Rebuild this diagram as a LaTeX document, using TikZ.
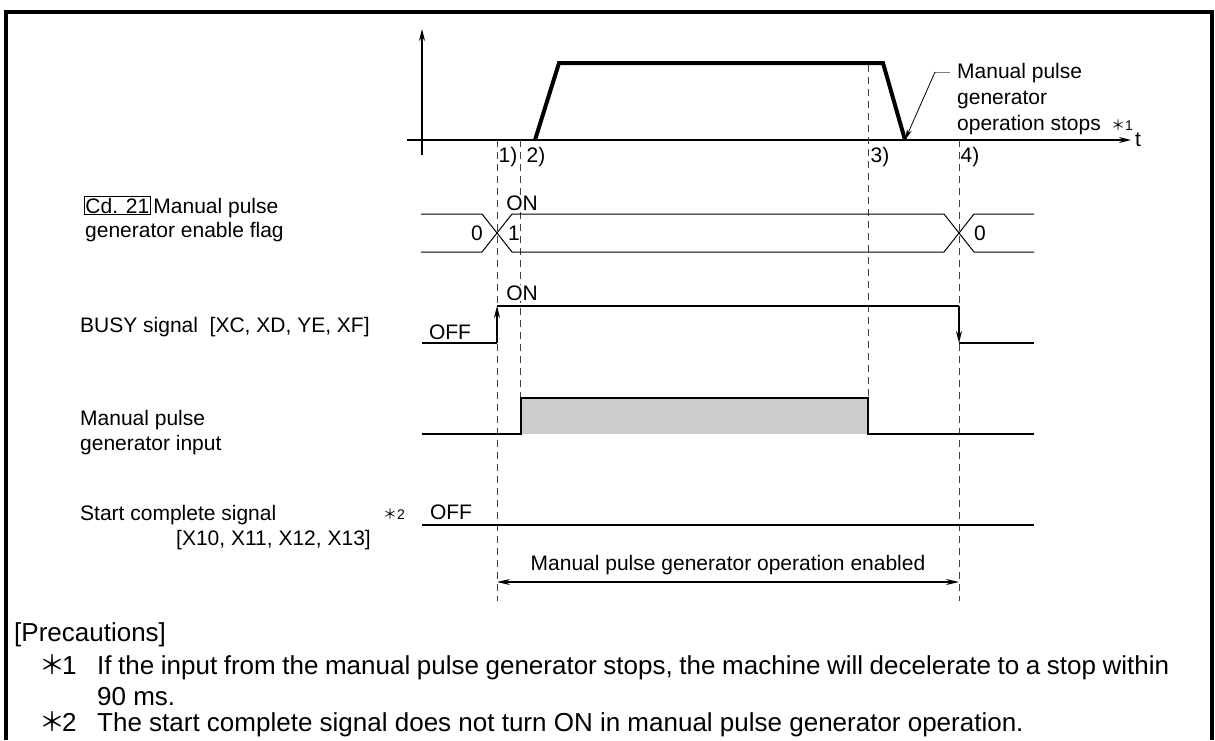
\documentclass[tikz,border=0pt]{standalone}
\usepackage{fontspec}
\setmainfont{Liberation Sans}
\newfontfamily\cjkstar{Noto Sans CJK JP}
\usetikzlibrary{arrows.meta}
\begin{document}
\begin{tikzpicture}[x=1pt,y=-1pt,
  lbl/.style={anchor=base west, inner sep=0pt, font=\fontsize{21}{25}\selectfont},
  small/.style={inner sep=0pt, font=\fontsize{14}{17}\selectfont},
  captxt/.style={anchor=base west, inner sep=0pt, font=\fontsize{26}{30}\selectfont},
  onlbl/.style={anchor=center, inner sep=0.5pt, fill=white, font=\fontsize{21}{25}\selectfont},
  sig/.style={line width=2.3pt, line join=miter},
  flagline/.style={line width=1pt},
  axisline/.style={line width=1.4pt},
  guide/.style={dash pattern=on 7pt off 5pt, line width=1pt, black!75},
  prof/.style={line width=4pt, line join=miter},
  tip/.style={-{Stealth[length=12pt,width=6pt]}}
]
\useasboundingbox (0,0) rectangle (1215,740);
% frame
\draw[line width=4pt, line join=miter] (5.5,740) -- (5.5,12) -- (1212,12) -- (1212,740);

% axes
\coordinate (yb) at (422,155); \coordinate (yt) at (422,29);
\coordinate (tl) at (407,140); \coordinate (tr) at (1131,140);
\draw[axisline, tip] (yb) -- (yt);
\draw[axisline, tip] (tl) -- (tr);
\node[lbl, anchor=center] (tlab) at (1138,140) {t};

% speed profile
\coordinate (p0) at (535,140); \coordinate (p1) at (559,63);
\coordinate (p2) at (883,63); \coordinate (p3) at (905,140);
\draw[prof] (p0) -- (p1) -- (p2) -- (p3);

% annotation
\node[lbl] (an1) at (957,78) {Manual pulse};
\node[lbl] (an2) at (957,104) {generator};
\node[lbl] (an3) at (957,130) {operation stops};
\node[small, anchor=center] (st1) at (1122,125) {{\cjkstar ＊}1};
\coordinate (ld0) at (950,72); \coordinate (ld1) at (935,72);
\draw[gray, line width=1pt] (ld0) -- (ld1);
\draw[line width=0.8pt, -{Stealth[length=11pt,width=5pt]}] (ld1) -- (p3);

% dashed guides
\coordinate (g1a) at (497,140); \coordinate (g1b) at (497,601);
\coordinate (g2a) at (520,140); \coordinate (g2b) at (520,398);
\coordinate (g3a) at (868,65);  \coordinate (g3b) at (868,398);
\coordinate (g4a) at (959,140); \coordinate (g4b) at (959,601);
\draw[guide] (g1a) -- (g1b);
\draw[guide] (g2a) -- (g2b);
\draw[guide] (g3a) -- (g3b);
\draw[guide] (g4a) -- (g4b);
\node[lbl, anchor=center] (n1) at (508,157) {1)};
\node[lbl, anchor=center] (n2) at (536,157) {2)};
\node[lbl, anchor=center] (n3) at (880,157) {3)};
\node[lbl, anchor=center] (n4) at (970,157) {4)};

% Cd.21 flag
\node[lbl, draw, line width=0.9pt, inner sep=1.5pt] (cdbox) at (83.5,213) {Cd. 21};
\node[lbl] (cdtxt) at ([xshift=2pt]cdbox.base east) {Manual pulse};
\node[lbl] (cdtxt2) at (85,237) {generator enable flag};
\draw[flagline] (421,214) -- (482,214) -- (512,252) -- (944,252) -- (974,214) -- (1034,214);
\draw[flagline] (421,252) -- (482,252) -- (512,214) -- (944,214) -- (974,252) -- (1034,252);
\node[lbl, anchor=center] (f0) at (477,233) {0};
\node[lbl, anchor=center] (f1) at (514,233) {1};
\node[onlbl] (fon) at (522,203) {ON};
\node[lbl, anchor=center] (f0b) at (980,233) {0};

% BUSY
\node[lbl] (busy) at (80,332) {BUSY signal\ \ [XC, XD, YE, XF]};
\coordinate (b0) at (422,343); \coordinate (b1) at (497,343);
\coordinate (b2) at (497,306); \coordinate (b3) at (959,306);
\coordinate (b4) at (959,343); \coordinate (b5) at (1034,343);
\draw[sig] (b0) -- (b1);
\draw[sig, tip] (b1) -- (b2);
\draw[sig] (b2) -- (b3);
\draw[sig, tip] (b3) -- (b4);
\draw[sig] (b4) -- (b5);
\node[onlbl] (bon) at (522,293) {ON};
\node[lbl, anchor=center] (boff) at (450,332) {OFF};

% manual pulse generator input
\node[lbl] (in1) at (80,425) {Manual pulse};
\node[lbl] (in2) at (80,450) {generator input};
\fill[black!20] (521,398) rectangle (868,434);
\draw[sig] (422,434) -- (521,434) -- (521,398) -- (868,398) -- (868,434) -- (1034,434);

% start complete
\node[lbl] (sc1) at (80,520) {Start complete signal};
\node[lbl, anchor=base east] (sc2) at (371,545) {[X10, X11, X12, X13]};
\node[small, anchor=center] (st2) at (394,514) {{\cjkstar ＊}2};
\node[lbl, anchor=center] (soff) at (451,512) {OFF};
\coordinate (s0) at (422,525); \coordinate (s1) at (1034,525);
\draw[sig] (s0) -- (s1);

% enabled range
\coordinate (e0) at (497,582); \coordinate (e1) at (959,582);
\draw[line width=1.1pt, {Stealth[length=13pt,width=6pt]}-{Stealth[length=13pt,width=6pt]}] (e0) -- (e1);
\node[lbl, anchor=base] (etxt) at (728,570) {Manual pulse generator operation enabled};

% precautions
\node[captxt] (pr) at (14,641) {[Precautions]};
\node[captxt, anchor=center] (pa) at (52,665) {\cjkstar ＊};
\node[captxt] (pa1) at (62,674) {1};
\node[captxt] (pat) at (97,674) {\hbox to 1072pt{If the input from the manual pulse generator stops, the machine will decelerate to a stop within}};
\node[captxt] (pat2) at (97,705) {90 ms.};
\node[captxt, anchor=center] (pb) at (52,722) {\cjkstar ＊};
\node[captxt] (pb1) at (62,731) {2};
\node[captxt] (pbt) at (97,731) {The start complete signal does not turn ON in manual pulse generator operation.};
\end{tikzpicture}
\end{document}
